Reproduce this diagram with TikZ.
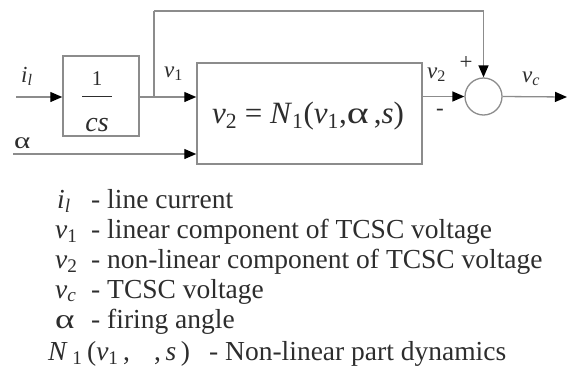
\documentclass[tikz,border=0pt]{standalone}
\usepackage{fontspec}
\setmainfont{Liberation Serif}
\usetikzlibrary{arrows.meta}
\definecolor{wire}{RGB}{140,140,140}
\definecolor{ink}{RGB}{45,45,45}
\newcommand\iv[1]{\textit{#1}}
\newcommand\sbs[1]{\textsubscript{#1}}
\newcommand\wa{\scalebox{1.35}[1]{α}}
\begin{document}
\begin{tikzpicture}[x=1pt,y=-1pt,
  wireline/.style={draw=wire,line width=1.3pt},
  arr/.style={wireline,-{Triangle[length=12pt,width=10pt,color=black]}},
  blk/.style={draw=wire,line width=1.5pt,rectangle,inner sep=0pt},
  lbl/.style={text=ink,font=\fontsize{23}{25}\selectfont,inner sep=0pt},
  leg/.style={text=ink,font=\fontsize{27.5}{30}\selectfont,inner sep=0pt,anchor=base west}]
\useasboundingbox (0,0) rectangle (567,373);
% blocks
\node[blk,minimum width=76pt,minimum height=80pt] (int) at (101,96) {};
\node[lbl,font=\fontsize{21}{23}\selectfont,anchor=base] (one) at (97,85) {1};
\node[lbl,font=\fontsize{28}{30}\selectfont,anchor=base] (cs) at (97,131) {\iv{cs}};
\draw[ink,line width=1pt] (82,96) -- (112,96);
\node[blk,minimum width=225pt,minimum height=101pt] (nl) at (309.5,113.5) {};
\node[lbl,font=\fontsize{31}{33}\selectfont,anchor=base] (eq) at (308,123) {\iv{v}\sbs{2} = \iv{N}\sbs{1}(\iv{v}\sbs{1},\wa\,,\iv{s})};
\node[draw=wire,line width=1.3pt,circle,minimum size=37pt,inner sep=0pt] (sum) at (483.5,96.5) {};
% coordinates
\coordinate (iin) at (16,97);
\coordinate (ain) at (13,154);
\coordinate (tap) at (154,97);
\coordinate (top) at (154,11);
\coordinate (out) at (567,97);
% connectors
\draw[arr] (iin) -- (int.west |- iin);
\draw[wireline] (int.east |- tap) -- (tap);
\draw[arr] (tap) -- (nl.west |- tap);
\draw[arr] (ain) -- (nl.west |- ain);
\draw[wireline] (tap) -- (top);
\draw[arr] (top) -| (sum.north);
\draw[arr] (nl.east |- sum) -- (sum.west);
\draw[arr] (sum.east) -- (out);
% labels
\node[lbl,anchor=base west] (li) at (21,82) {\iv{i}\sbs{\iv{l}}};
\node[lbl,anchor=base west] (la) at (14,148) {\wa};
\node[lbl,anchor=base west] (lv1) at (164,77) {\iv{v}\sbs{1}};
\node[lbl,anchor=base west] (lv2) at (427,78) {\iv{v}\sbs{2}};
\node[lbl,anchor=base west] (lvc) at (522,82) {\iv{v}\sbs{\iv{c}}};
\node[lbl] (plus) at (466,63) {+};
\node[lbl] (minus) at (440,112) {-};
% legend
\node[leg] (s1) at (57,208) {\iv{i}\sbs{\iv{l}}};
\node[leg] (g1) at (91,208) {- line current};
\node[leg] (s2) at (55,238) {\iv{v}\sbs{1}};
\node[leg] (g2) at (91,238) {- linear component of TCSC voltage};
\node[leg] (s3) at (55,268) {\iv{v}\sbs{2}};
\node[leg] (g3) at (91,268) {- non-linear component of TCSC voltage};
\node[leg] (s4) at (55,298) {\iv{v}\sbs{\iv{c}}};
\node[leg] (g4) at (91,298) {- TCSC voltage};
\node[leg] (s5) at (55,328) {\wa};
\node[leg] (g5) at (91,328) {- firing angle};
\node[leg] (s6) at (48,360) {\iv{N}\,\sbs{1}\,(\iv{v}\sbs{1}\,,\hspace{24pt},\,\iv{s}\,)};
\node[leg] (g6) at (209,360) {- Non-linear part dynamics};
\end{tikzpicture}
\end{document}
